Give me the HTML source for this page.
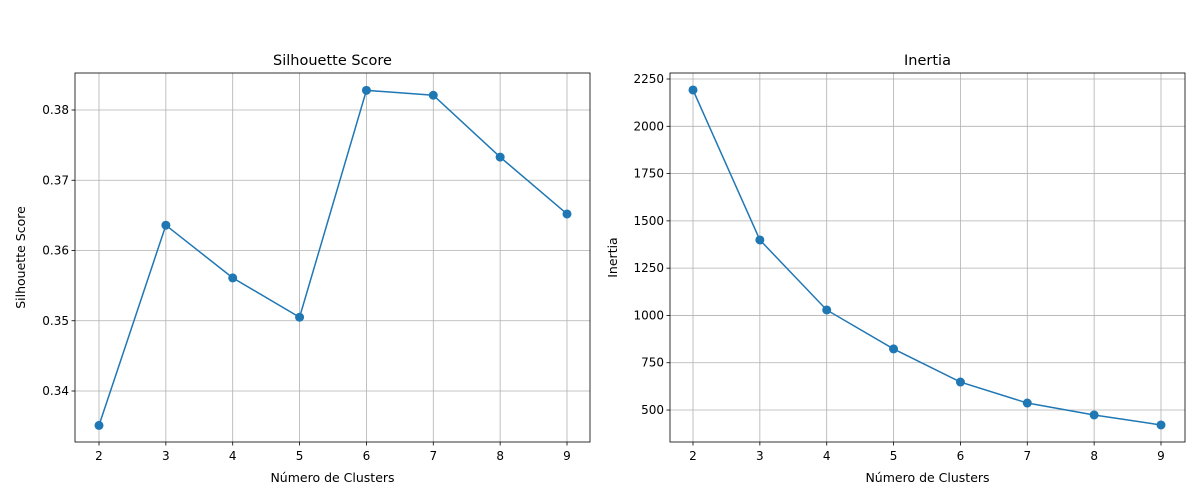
<!DOCTYPE html>
<html><head><meta charset="utf-8">
<style>
html,body{margin:0;padding:0;background:#fff;}
svg{display:block;font-family:"DejaVu Sans","Liberation Sans",sans-serif;}
</style></head>
<body>
<svg id="fig" width="1200" height="500" viewBox="0 0 1200 500"></svg>
<script>
const categories = [2,3,4,5,6,7,8,9];
const silhouetteValues = [0.3351,0.3636,0.3561,0.3505,0.3828,0.3821,0.3733,0.3652];
const inertiaValues = [2192,1399,1029,823,648,537,474,421];
const silTicks = [0.34,0.35,0.36,0.37,0.38];
const silTickLabels = ["0.34","0.35","0.36","0.37","0.38"];
const inTicks = [500,750,1000,1250,1500,1750,2000,2250];
const inTickLabels = ["500","750","1000","1250","1500","1750","2000","2250"];

const NS="http://www.w3.org/2000/svg";
const svg=document.getElementById('fig');
function mk(t,a,p){const e=document.createElementNS(NS,t);for(const k in a)e.setAttribute(k,a[k]);(p||svg).appendChild(e);return e;}

function panel(opt){
  const g=mk('g',{});
  
  
  const {L,R,T,B}=opt;
  const xs=v=>opt.x0px+(v-2)*(opt.x9px-opt.x0px)/7;
  const ys=v=>opt.yRefPx+(opt.yRef-v)*opt.pxPerUnit;
  // grid
  categories.forEach(c=>{const l=mk('line',{x1:xs(c),x2:xs(c),y1:T,y2:B,stroke:'#b0b0b0','stroke-width':0.8},g);
    });
  opt.ticks.forEach(t=>{const l=mk('line',{x1:L,x2:R,y1:ys(t),y2:ys(t),stroke:'#b0b0b0','stroke-width':0.8},g);
    });
  // line
  const pts=categories.map((c,i)=>xs(c)+','+ys(opt.values[i])).join(' ');
  const pl=mk('polyline',{points:pts,fill:'none',stroke:'#1f77b4','stroke-width':1.5},g);
  
  categories.forEach((c,i)=>{const m=mk('circle',{cx:xs(c),cy:ys(opt.values[i]),r:4.5,fill:'#1f77b4'},g);
    });
  // frame
  const fr=mk('rect',{x:L,y:T,width:R-L,height:B-T,fill:'none',stroke:'#000','stroke-width':0.8},g);
  
  // x ticks
  categories.forEach(c=>{mk('line',{x1:xs(c),x2:xs(c),y1:B,y2:B+3.5,stroke:'#000','stroke-width':0.8},g);
    const t=mk('text',{x:xs(c),y:B+18,'text-anchor':'middle','font-size':12},g);t.textContent=c;
    });
  opt.ticks.forEach((v,i)=>{mk('line',{x1:L-3.5,x2:L,y1:ys(v),y2:ys(v),stroke:'#000','stroke-width':0.8},g);
    const t=mk('text',{x:L-6,y:ys(v)+4,'text-anchor':'end','font-size':12},g);t.textContent=opt.tickLabels[i];
    });
  const ti=mk('text',{x:(L+R)/2,y:T-8,'text-anchor':'middle','font-size':14.5},g);ti.textContent=opt.title;
  
  const xl=mk('text',{x:(L+R)/2,y:482,'text-anchor':'middle','font-size':12.5},g);xl.textContent='Número de Clusters';
  
  const yl=mk('text',{x:opt.ylx,y:(T+B)/2,'text-anchor':'middle','font-size':12.5,transform:`rotate(-90 ${opt.ylx} ${(T+B)/2})`},g);
  yl.textContent=opt.ylabel;
}
panel({name:'silhouette-chart',L:75,R:590,T:73,B:442,x0px:99,x9px:567,yRef:0.38,yRefPx:110,pxPerUnit:7025,
  values:silhouetteValues,ticks:silTicks,tickLabels:silTickLabels,title:'Silhouette Score',ylabel:'Silhouette Score',ylx:25});
panel({name:'inertia-chart',L:670,R:1185,T:73,B:442,x0px:693,x9px:1161,yRef:2250,yRefPx:79,pxPerUnit:47.29/250,
  values:inertiaValues,ticks:inTicks,tickLabels:inTickLabels,title:'Inertia',ylabel:'Inertia',ylx:617});
</script>
</body></html>
